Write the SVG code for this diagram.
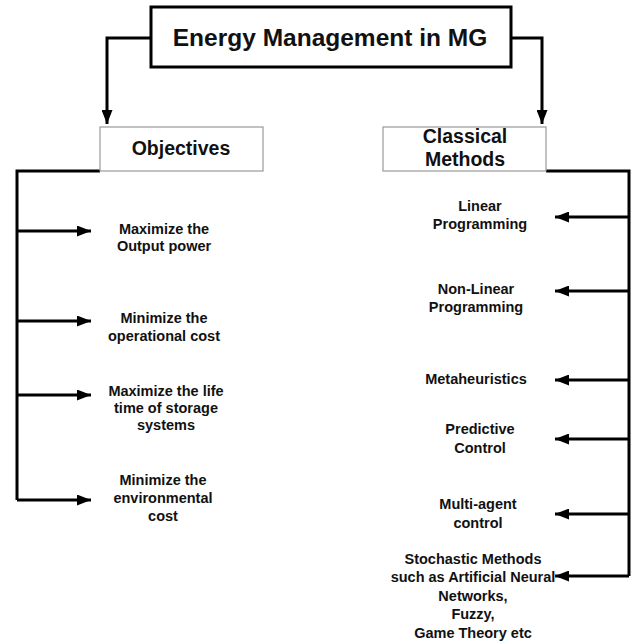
<svg xmlns="http://www.w3.org/2000/svg" width="637" height="641" viewBox="0 0 637 641">
  <style>
    text { font-family: "Liberation Sans", Arial, sans-serif; font-weight: bold; fill: #111; text-anchor: middle; }
    .title { font-size: 24.5px; }
    .head { font-size: 19.5px; }
    .item { font-size: 14.5px; }
    .wire { fill: none; stroke: #000; stroke-width: 3; }
  </style>
  <defs>
    <marker id="arrow" viewBox="0 0 14 11" refX="14" refY="5.5" markerWidth="14" markerHeight="11" markerUnits="userSpaceOnUse" orient="auto">
      <path d="M0,0 L14,5.5 L0,11 Z" fill="#000"/>
    </marker>
  </defs>

  <rect width="637" height="641" fill="#fff"/>

  <!-- connectors -->
  <g id="connectors">
    <path class="wire" d="M151,38 H107 V124" marker-end="url(#arrow)"/>
    <path class="wire" d="M511,38 H542 V124" marker-end="url(#arrow)"/>
    <path class="wire" d="M100,171 H17 V500"/>
    <path class="wire" d="M17,231 H91" marker-end="url(#arrow)"/>
    <path class="wire" d="M17,321 H91" marker-end="url(#arrow)"/>
    <path class="wire" d="M17,395 H91" marker-end="url(#arrow)"/>
    <path class="wire" d="M17,500 H91" marker-end="url(#arrow)"/>
    <path class="wire" d="M546,171 H629 V576"/>
    <path class="wire" d="M629,217 H555" marker-end="url(#arrow)"/>
    <path class="wire" d="M629,291 H555" marker-end="url(#arrow)"/>
    <path class="wire" d="M629,380 H555" marker-end="url(#arrow)"/>
    <path class="wire" d="M629,439 H555" marker-end="url(#arrow)"/>
    <path class="wire" d="M629,514 H555" marker-end="url(#arrow)"/>
    <path class="wire" d="M629,576 H555" marker-end="url(#arrow)"/>
  </g>

  <g id="root">
    <rect x="151" y="7" width="360" height="60" fill="#fff" stroke="#000" stroke-width="3"/>
    <text class="title" x="330" y="46">Energy Management in MG</text>
  </g>

  <g id="objectives">
    <rect x="100" y="127" width="163" height="44" fill="#fff" stroke="#999" stroke-width="1.2"/>
    <text class="head" x="181" y="155">Objectives</text>
  </g>

  <g id="classical">
    <rect x="383" y="127" width="163" height="44" fill="#fff" stroke="#999" stroke-width="1.2"/>
    <text class="head" x="465" y="143">Classical</text>
    <text class="head" x="465" y="166">Methods</text>
  </g>

  <g id="obj-power">
    <text class="item" x="164" y="234">Maximize the</text>
    <text class="item" x="164" y="251">Output power</text>
  </g>
  <g id="obj-opcost">
    <text class="item" x="164" y="323">Minimize the</text>
    <text class="item" x="164" y="341">operational cost</text>
  </g>
  <g id="obj-storage">
    <text class="item" x="166" y="396">Maximize the life</text>
    <text class="item" x="166" y="413">time of storage</text>
    <text class="item" x="166" y="430">systems</text>
  </g>
  <g id="obj-env">
    <text class="item" x="163" y="485">Minimize the</text>
    <text class="item" x="163" y="503">environmental</text>
    <text class="item" x="163" y="521">cost</text>
  </g>

  <g id="m-linear">
    <text class="item" x="480" y="211">Linear</text>
    <text class="item" x="480" y="229">Programming</text>
  </g>
  <g id="m-nonlinear">
    <text class="item" x="476" y="294">Non-Linear</text>
    <text class="item" x="476" y="312">Programming</text>
  </g>
  <g id="m-meta">
    <text class="item" x="476" y="384">Metaheuristics</text>
  </g>
  <g id="m-predictive">
    <text class="item" x="480" y="434">Predictive</text>
    <text class="item" x="480" y="453">Control</text>
  </g>
  <g id="m-multiagent">
    <text class="item" x="478" y="509">Multi-agent</text>
    <text class="item" x="478" y="528">control</text>
  </g>
  <g id="m-stochastic">
    <text class="item" x="473" y="564">Stochastic Methods</text>
    <text class="item" x="473" y="582">such as Artificial Neural</text>
    <text class="item" x="473" y="601">Networks,</text>
    <text class="item" x="473" y="619">Fuzzy,</text>
    <text class="item" x="473" y="638">Game Theory etc</text>
  </g>
</svg>
